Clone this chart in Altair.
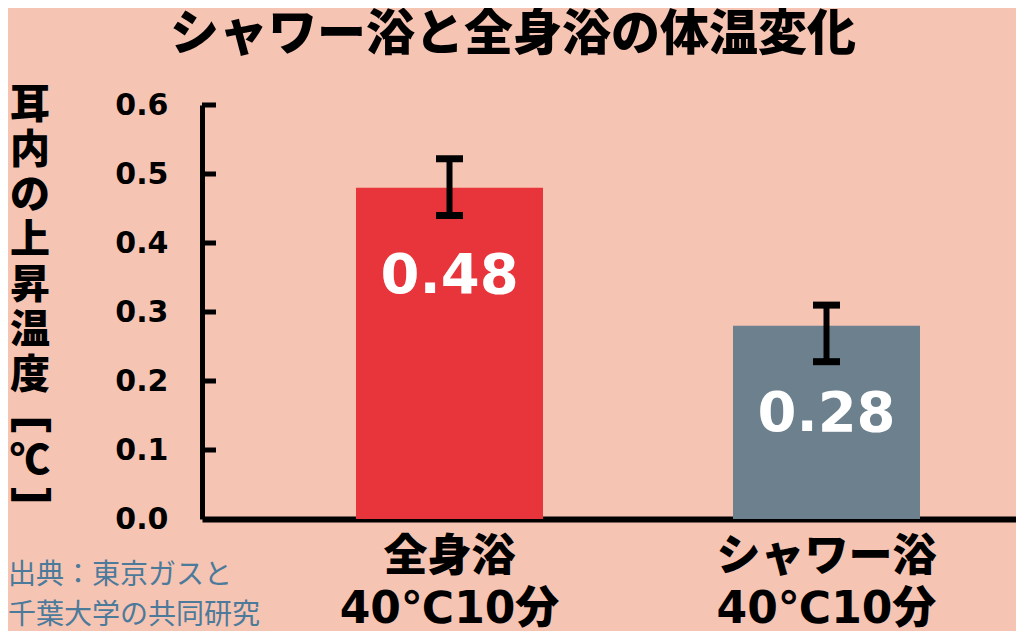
import altair as alt
import pandas as pd

# ---- data ----
categories = ["全身浴", "シャワー浴"]
conditions = ["40℃10分", "40℃10分"]
values = [0.48, 0.28]
err_low = [0.44, 0.228]
err_high = [0.522, 0.31]
bar_colors = ["#E8343B", "#6C808D"]
y_ticks = [0.0, 0.1, 0.2, 0.3, 0.4, 0.5, 0.6]
inner_ticks = [0.1, 0.2, 0.3, 0.4, 0.5, 0.6]
title_text = "シャワー浴と全身浴の体温変化"
y_title_main = ["耳", "内", "の", "上", "昇", "温", "度"]
y_title_unit = ["[", "℃", "]"]
source_lines = ["出典：東京ガスと", "千葉大学の共同研究"]

BG = "#F6C4B3"
NUM_FONT = "DejaVu Sans, Noto Sans CJK JP"
CJK_FONT = "Noto Sans CJK JP"

keys = [f"{c}|{d}" for c, d in zip(categories, conditions)]
df = pd.DataFrame({"key": keys, "value": values, "lo": err_low, "hi": err_high})
ticks_df = pd.DataFrame({"t": inner_ticks})
one = pd.DataFrame({"a": [0]})

xscale = alt.Scale(domain=keys, paddingInner=0.504, paddingOuter=0.3316, align=0.616)
yscale = alt.Scale(domain=[0, 0.6], nice=False, zero=True)

x_axis = alt.Axis(title=None, labelAngle=0, ticks=False, domainWidth=6,
                  domainColor="black", labelFont=NUM_FONT, labelFontWeight=900,
                  labelFontSize=44, labelColor="black", labelLineHeight=52,
                  labelPadding=16, labelLimit=0,
                  labelExpr="split(datum.label, '|')", grid=False)
y_axis = alt.Axis(title=None, values=y_ticks, format=".1f", ticks=False, grid=False,
                  domainWidth=5, domainColor="black", labelFont=NUM_FONT,
                  labelFontWeight="bold", labelFontSize=30, labelColor="black",
                  labelPadding=34, labelOverlap=False)


def X():
    return alt.X("key:N", scale=xscale, sort=keys, axis=x_axis)


def Y(field):
    return alt.Y(field, scale=yscale, axis=y_axis, title=None)


bars = alt.Chart(df).mark_bar().encode(
    x=X(),
    y=Y("value:Q"),
    color=alt.Color("key:N", scale=alt.Scale(domain=keys, range=bar_colors), legend=None),
)

err_rule = alt.Chart(df).mark_rule(color="black", strokeWidth=6).encode(
    x=X(), y=Y("lo:Q"), y2="hi:Q",
)
cap_lo = alt.Chart(df).mark_tick(color="black", thickness=7, size=27, opacity=1,
                                 orient="horizontal").encode(x=X(), y=Y("lo:Q"))
cap_hi = alt.Chart(df).mark_tick(color="black", thickness=7, size=27, opacity=1,
                                 orient="horizontal").encode(x=X(), y=Y("hi:Q"))

val_text = alt.Chart(df).mark_text(color="white", font="DejaVu Sans", fontWeight="bold",
                                   fontSize=56, baseline="middle", dy=88).encode(
    x=X(), y=Y("value:Q"),
    text=alt.Text("value:Q", format=".2f"),
)

inner_tick_rules = alt.Chart(ticks_df).mark_rule(color="black", strokeWidth=5).encode(
    y=Y("t:Q"),
    x=alt.value(0),
    x2=alt.value(14),
)

title_mark = alt.Chart(one).mark_text(font=CJK_FONT, fontWeight=900, fontSize=49,
                                      color="black", align="center", baseline="middle").encode(
    x=alt.value(311), y=alt.value(-70), text=alt.value(title_text))

ytitle_mark = alt.Chart(one).mark_text(font=CJK_FONT, fontWeight=900, fontSize=40,
                                       color="black", align="center", baseline="top",
                                       lineHeight=45).encode(
    x=alt.value(-172), y=alt.value(-19), text=alt.value(y_title_main))

ybr_open = alt.Chart(one).mark_text(font="DejaVu Sans", fontWeight="bold", fontSize=44,
                                    color="black", align="center", baseline="middle",
                                    angle=90).encode(
    x=alt.value(-172), y=alt.value(320), text=alt.value(y_title_unit[0]))
yunit = alt.Chart(one).mark_text(font=CJK_FONT, fontWeight=900, fontSize=40,
                                 color="black", align="center", baseline="middle").encode(
    x=alt.value(-172), y=alt.value(357), text=alt.value(y_title_unit[1]))
ybr_close = alt.Chart(one).mark_text(font="DejaVu Sans", fontWeight="bold", fontSize=44,
                                     color="black", align="center", baseline="middle",
                                     angle=90).encode(
    x=alt.value(-172), y=alt.value(390), text=alt.value(y_title_unit[2]))

source_mark = alt.Chart(one).mark_text(font=CJK_FONT, fontWeight="normal", fontSize=28,
                                       color="#4B7A9A", align="left", baseline="top",
                                       lineHeight=40).encode(
    x=alt.value(-194), y=alt.value(457), text=alt.value(source_lines))

chart = alt.layer(
    bars, err_rule, cap_lo, cap_hi, val_text, inner_tick_rules,
    title_mark, ytitle_mark, ybr_open, yunit, ybr_close, source_mark
).properties(
    width=814, height=414,
    autosize=alt.AutoSizeParams(type="none"),
    padding={"left": 194, "top": 97, "right": 0, "bottom": 112},
    background=BG,
).configure_view(stroke=None)

chart.save("out.html", embed_options={"renderer": "svg", "actions": False})
